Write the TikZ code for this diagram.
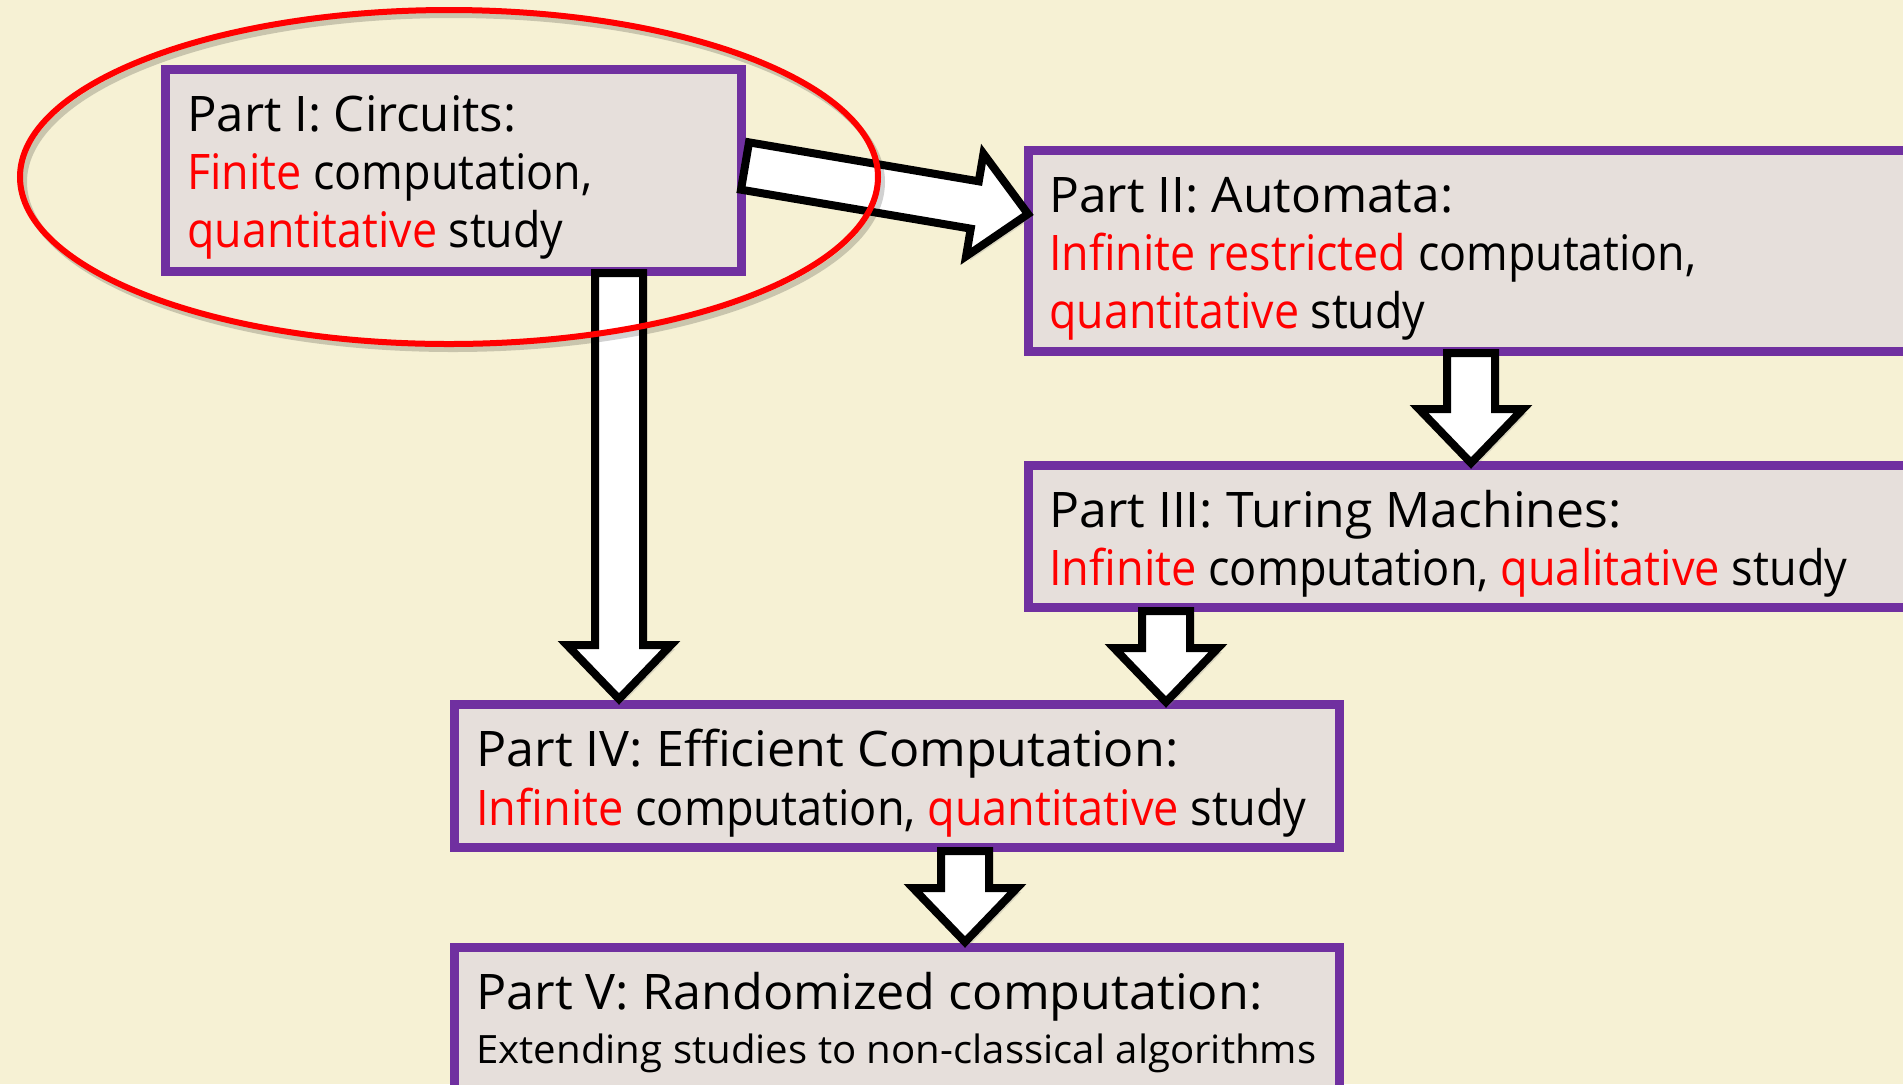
\documentclass[tikz,border=0pt]{standalone}
\usepackage{fontspec}
\usepackage{graphicx}
\setmainfont{Open Sans}
\usetikzlibrary{calc,shadows}
\definecolor{bgc}{RGB}{246,241,212}
\definecolor{boxfill}{RGB}{230,223,219}
\definecolor{boxline}{RGB}{112,48,160}
\definecolor{hlred}{RGB}{255,0,0}
\newcommand\hlt[1]{\textcolor{hlred}{#1}}
\newcommand\fitw[2]{\resizebox{#1}{\height}{#2}}
\tikzset{
  box/.style={draw=boxline, line width=4.5pt, fill=boxfill, rectangle, inner sep=0pt, anchor=north west},
  lbl/.style={anchor=base west, inner sep=0pt, text=black, font=\fontsize{24.5}{29}\selectfont},
  smalllbl/.style={anchor=base west, inner sep=0pt, text=black, font=\fontsize{19.5}{23}\selectfont},
  blockarrow/.style={draw=black, line width=4pt, fill=white, line join=miter,
    drop shadow={shadow xshift=2pt, shadow yshift=-2pt, opacity=0.25}},
}
\newcommand\blockarrow[2]{%
  \path (#1) coordinate (ba-s) (#2) coordinate (ba-e);
  \coordinate (ba-h) at ($(ba-e)!27pt!(ba-s)$);
  \draw[blockarrow] ($(ba-s)!12pt!90:(ba-e)$) -- ($(ba-h)!12pt!90:(ba-e)$)
    -- ($(ba-h)!26pt!90:(ba-e)$) -- (ba-e) -- ($(ba-h)!26pt!-90:(ba-e)$)
    -- ($(ba-h)!12pt!-90:(ba-e)$) -- ($(ba-s)!12pt!-90:(ba-e)$) -- cycle;
}
\begin{document}
\begin{tikzpicture}[x=0.5pt,y=-0.5pt]
\useasboundingbox (0,0) rectangle (1903,1084);
\clip (0,0) rectangle (1903,1084);
\fill[bgc] (0,0) rectangle (1903,1084);

% boxes (anchored at outer corner)
\node[box, minimum width=288pt, minimum height=101pt] (p1) at (161,65) {};
\node[box, minimum width=445.5pt, minimum height=100.5pt] (p2) at (1024,146) {};
\node[box, minimum width=445.5pt, minimum height=71pt] (p3) at (1024,461) {};
\node[box, minimum width=442.5pt, minimum height=71.5pt] (p4) at (450,700) {};
\node[box, minimum width=442.5pt, minimum height=81pt] (p5) at (450,943) {};

% texts
\node[lbl] (t1a) at (187,131) {\fitw{164.5pt}{Part I: Circuits:}};
\node[lbl] (t1b) at (187,189) {\fitw{202.5pt}{\hlt{Finite} computation,}};
\node[lbl] (t1c) at (187,247) {\fitw{188pt}{\hlt{quantitative} study}};
\node[lbl] (t2a) at (1049,212) {\fitw{202pt}{Part II: Automata:}};
\node[lbl] (t2b) at (1049,270) {\fitw{323.5pt}{\hlt{Infinite restricted} computation,}};
\node[lbl] (t2c) at (1049,328) {\fitw{188pt}{\hlt{quantitative} study}};
\node[lbl] (t3a) at (1049,527) {\fitw{286pt}{Part III: Turing Machines:}};
\node[lbl] (t3b) at (1049,585) {\fitw{399pt}{\hlt{Infinite} computation, \hlt{qualitative} study}};
\node[lbl] (t4a) at (476,766) {\fitw{351pt}{Part IV: Efficient Computation:}};
\node[lbl] (t4b) at (476,825) {\fitw{415pt}{\hlt{Infinite} computation, \hlt{quantitative} study}};
\node[lbl] (t5a) at (476,1009) {\fitw{393pt}{Part V: Randomized computation:}};
\node[smalllbl] (t5b) at (476,1063) {\fitw{420pt}{Extending studies to non-classical algorithms}};

% arrows
\coordinate (x2) at (619,0);
\coordinate (x3) at (1471,0);
\coordinate (x4) at (1166,0);
\coordinate (x5) at (965,0);
\blockarrow{$(p1.east)+(-1,-4.5)$}{$(p2.west)+(4,-37)$}
\blockarrow{$(x2 |- p1.south)+(0,-3)$}{$(x2 |- p4.north)+(0,-1)$}
\blockarrow{$(x3 |- p2.south)+(0,-3)$}{$(x3 |- p3.north)+(0,2)$}
\blockarrow{$(x4 |- p3.south)+(0,-1)$}{$(x4 |- p4.north)+(0,2)$}
\blockarrow{$(x5 |- p4.south)+(0,-1)$}{$(x5 |- p5.north)+(0,-1)$}

% highlight ellipse
\draw[black, opacity=0.18, line width=3pt] (453,182) ellipse [x radius=429, y radius=167];
\draw[hlred, line width=3pt] (449,177) ellipse [x radius=429, y radius=167];
\end{tikzpicture}
\end{document}
